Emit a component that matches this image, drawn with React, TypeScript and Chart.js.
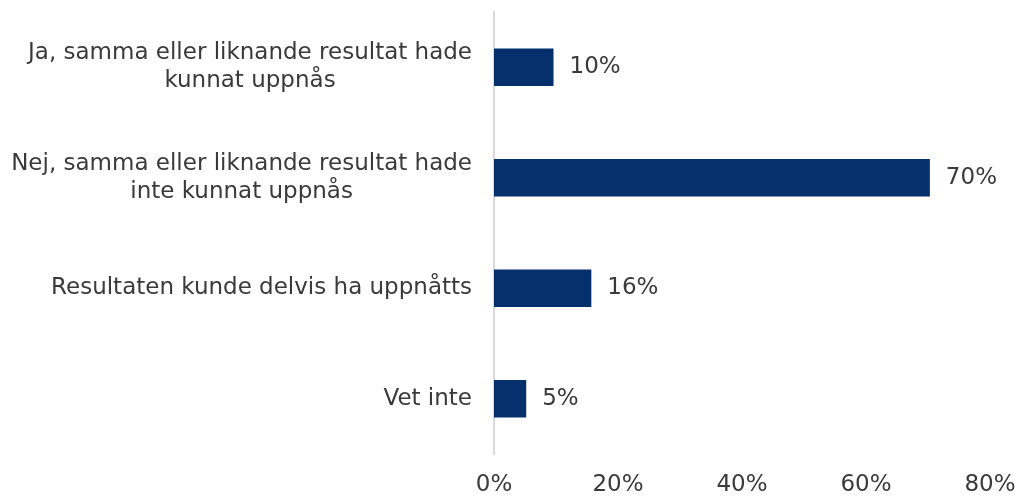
import React, { useEffect, useRef } from "react";
import { Chart, registerables } from "chart.js";

Chart.register(...registerables);

const categories: string[][] = [
  ["Ja, samma eller liknande resultat hade", "kunnat uppnås"],
  ["Nej, samma eller liknande resultat hade", "inte kunnat uppnås"],
  ["Resultaten kunde delvis ha uppnåtts"],
  ["Vet inte"],
];
const values: number[] = [9.6, 70.3, 15.7, 5.2];
const xTicks: number[] = [0, 20, 40, 60, 80];

const FONT = "'DejaVu Sans', sans-serif";
const TEXT = "#3a3a3a";
const BAR = "#06306b";
const SIZE = 23;

const labelsPlugin = {
  id: "customLabels",
  afterDatasetsDraw(chart: any) {
    const ctx = chart.ctx;
    const yScale = chart.scales.y;
    const area = chart.chartArea;
    ctx.save();
    ctx.fillStyle = TEXT;
    ctx.font = `400 ${SIZE}px ${FONT}`;
    ctx.textBaseline = "middle";
    const rightX = area.left - 22;
    const lineH = 28;
    categories.forEach((lines, i) => {
      const cy = yScale.getPixelForTick(i);
      const maxW = Math.max(...lines.map((l) => ctx.measureText(l).width));
      const cx = rightX - maxW / 2;
      const startY = cy - ((lines.length - 1) * lineH) / 2;
      ctx.textAlign = "center";
      lines.forEach((l, j) => ctx.fillText(l, cx, startY + j * lineH));
    });
    const meta = chart.getDatasetMeta(0);
    ctx.textAlign = "left";
    meta.data.forEach((bar: any, i: number) => {
      ctx.fillText(`${Math.round(values[i])}%`, bar.x + 16, bar.y);
    });
    ctx.restore();
  },
};

export default function App() {
  const ref = useRef<HTMLCanvasElement>(null);
  useEffect(() => {
    if (!ref.current) return;
    const chart = new Chart(ref.current, {
      type: "bar",
      data: {
        labels: categories.map((c) => c.join(" ")),
        datasets: [
          {
            data: values,
            backgroundColor: BAR,
            barPercentage: 0.34,
            categoryPercentage: 1,
          },
        ],
      },
      options: {
        indexAxis: "y",
        animation: false,
        responsive: false,
        maintainAspectRatio: false,
        layout: { padding: { top: 12, right: 34, bottom: 0, left: 0 } },
        plugins: { legend: { display: false }, tooltip: { enabled: false } },
        scales: {
          x: {
            min: 0,
            max: 80,
            afterBuildTicks: (s: any) => {
              s.ticks = xTicks.map((v) => ({ value: v }));
            },
            afterFit: (s: any) => {
              s.height = 43;
              s.paddingLeft = 0;
              s.paddingRight = 0;
            },
            grid: { display: false, drawTicks: false },
            border: { display: false },
            ticks: {
              padding: 17,
              color: TEXT,
              font: { family: FONT, size: SIZE },
              callback: (v: any) => `${v}%`,
            },
          },
          y: {
            grid: { display: false, drawTicks: false },
            border: { display: true, color: "#d9d9d9", width: 2 },
            ticks: { display: false },
            afterFit: (s: any) => {
              s.width = 494;
            },
          },
        },
      },
      plugins: [labelsPlugin],
    });
    return () => chart.destroy();
  }, []);
  return (
    <div style={{ position: "fixed", left: 0, top: 0, width: 1024, height: 497, background: "#fff" }}>
      <canvas ref={ref} width={1024} height={497} />
    </div>
  );
}
